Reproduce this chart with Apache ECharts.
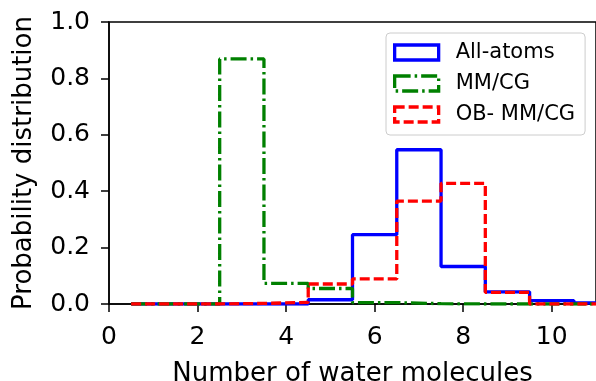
<!DOCTYPE html>
<html><head><meta charset="utf-8">
<script src="https://cdn.jsdelivr.net/npm/echarts@6/dist/echarts.min.js"></script>
<style>html,body{margin:0;padding:0;background:#fff}#c{width:596px;height:381px}</style>
</head><body><div id="c"></div>
<script>
// bin centers (number of water molecules); each bin spans center±0.5
const binCenters = [1,2,3,4,5,6,7,8,9,10,11,12];
const allAtoms  = [0,0,0,0,0.015,0.246,0.547,0.133,0.043,0.012,0.004,0];
const mmcg      = [0,0,0.869,0.073,0.055,0.005,0.001,0,0,0,0,0];
const obmmcg    = [0,0,0.002,0.006,0.071,0.089,0.365,0.428,0.041,0,0,0];
const seriesNames = ['All-atoms','MM/CG','OB- MM/CG'];
const xTicks = [0,2,4,6,8,10];
const yTicks = [0,0.2,0.4,0.6,0.8,1.0];

function stepPath(vals){
  const pts=[[binCenters[0]-0.5,0]];
  for(let i=0;i<binCenters.length;i++){
    pts.push([binCenters[i]-0.5,vals[i]]);
    pts.push([binCenters[i]+0.5,vals[i]]);
  }
  pts.push([binCenters[binCenters.length-1]+0.5,0]);
  return pts;
}
const colors=['#0000ff','#008000','#ff0000'];
const dashes=['solid',[16,4,2.5,4],[10,4]];
const datas=[allAtoms,mmcg,obmmcg];
const font='DejaVu Sans';
const chart=echarts.init(document.getElementById('c'),null,{renderer:'canvas'});
chart.setOption({
  animation:false,
  grid:{left:109,top:22,right:0,bottom:77,show:true,borderColor:'#000',borderWidth:1.5,backgroundColor:'transparent',
    containLabel:false,outerBoundsMode:'none'},
  xAxis:{type:'value',min:0,max:11,interval:2,
    name:'Number of water molecules',nameLocation:'middle',nameGap:57,
    nameTextStyle:{fontFamily:font,fontSize:26,color:'#000'},
    axisLine:{show:true,lineStyle:{color:'#000',width:1.5}},
    axisTick:{show:true,length:8,lineStyle:{color:'#000',width:1.5}},
    axisLabel:{fontFamily:font,fontSize:25,color:'#000',margin:21,showMaxLabel:false,
      formatter:v=>xTicks.includes(v)?String(v):''},
    splitLine:{show:false}},
  yAxis:{type:'value',min:0,max:1,interval:0.2,
    name:'Probability distribution',nameLocation:'middle',nameGap:72,
    nameTextStyle:{fontFamily:font,fontSize:26,color:'#000'},
    axisLine:{show:true,lineStyle:{color:'#000',width:1.5}},
    axisTick:{show:true,length:8,lineStyle:{color:'#000',width:1.5}},
    axisLabel:{fontFamily:font,fontSize:25,color:'#000',margin:19,formatter:v=>v.toFixed(1)},
    splitLine:{show:false}},
  legend:{orient:'vertical',left:386,top:33,
    padding:[9,10,10,7],itemGap:10,itemWidth:44,itemHeight:15,
    backgroundColor:'rgba(255,255,255,0.8)',borderColor:'#cccccc',borderWidth:1,borderRadius:4,
    textStyle:{fontFamily:font,fontSize:21,lineHeight:21,color:'#000',padding:[0,0,0,12]},
    icon:'rect',
    data:seriesNames.map((n,i)=>({name:n,icon:'rect',
      itemStyle:{color:'rgba(0,0,0,0)',borderColor:colors[i],borderWidth:3.3,borderType:dashes[i]}}))},
  series:datas.map((d,i)=>({
    name:seriesNames[i],type:'line',data:stepPath(d),showSymbol:false,symbol:'none',clip:true,
    lineStyle:{color:colors[i],width:3.3,type:dashes[i]},itemStyle:{color:colors[i]},z:2+i
  }))
});
</script></body></html>
